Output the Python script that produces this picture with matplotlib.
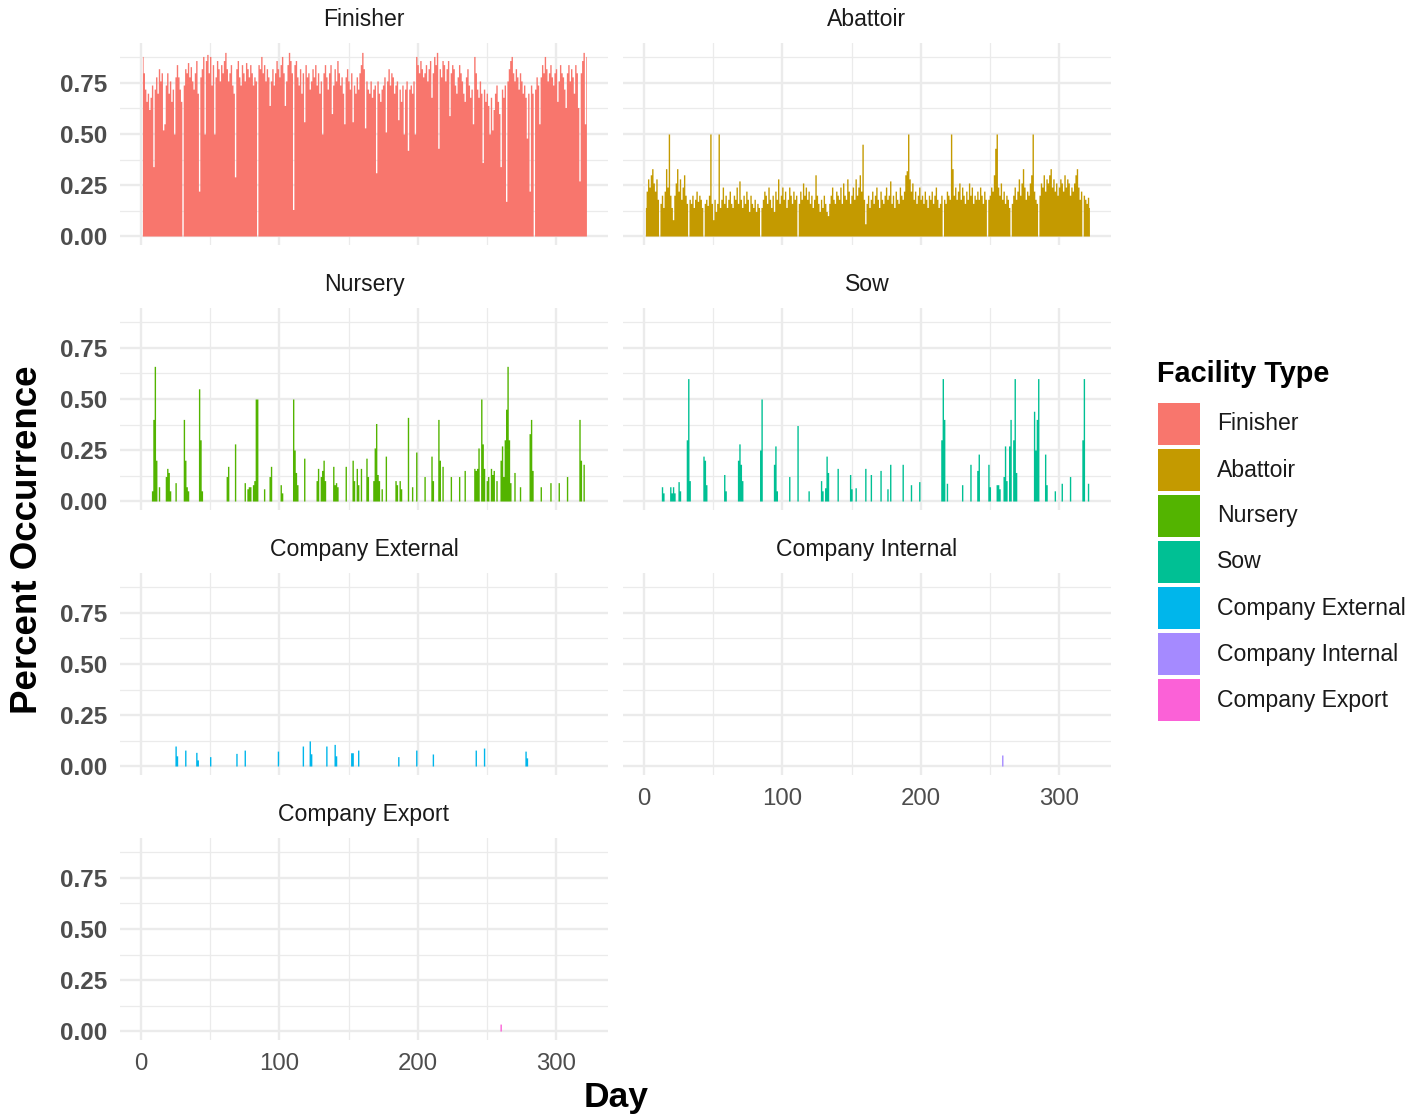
import numpy as np
import matplotlib.pyplot as plt
from matplotlib.patches import Rectangle

plt.rcParams['font.family'] = ['Liberation Sans', 'DejaVu Sans']

W, H = 1427, 1120

facilities = ['Finisher', 'Abattoir', 'Nursery', 'Sow',
              'Company External', 'Company Internal', 'Company Export']
colors = ['#F8766D', '#C49A00', '#53B400', '#00C094',
          '#00B6EB', '#A58AFF', '#FB61D7']

days = np.arange(1, 323)

# daily share of occurrences, finisher + abattoir (every day has a value)
finisher = [
    0.88, 0.80, 0.72, 0.66, 0.70, 0.62, 0.68, 0.74, 0.34, 0.72, 0.78, 0.70, 0.82, 0.76, 0.80, 0.52, 0.55, 0.74, 0.80, 0.70,
    0.76, 0.66, 0.72, 0.50, 0.78, 0.84, 0.78, 0.72, 0.66, 0.00, 0.74, 0.82, 0.80, 0.85, 0.78, 0.83, 0.76, 0.72, 0.80, 0.86,
    0.70, 0.22, 0.78, 0.82, 0.88, 0.50, 0.86, 0.89, 0.80, 0.88, 0.74, 0.84, 0.50, 0.78, 0.86, 0.82, 0.76, 0.84, 0.80, 0.86,
    0.90, 0.82, 0.76, 0.80, 0.84, 0.74, 0.70, 0.29, 0.82, 0.86, 0.78, 0.74, 0.84, 0.80, 0.76, 0.85, 0.82, 0.78, 0.84, 0.80,
    0.74, 0.78, 0.76, 0.00, 0.84, 0.82, 0.88, 0.80, 0.84, 0.76, 0.82, 0.78, 0.64, 0.76, 0.82, 0.74, 0.80, 0.86, 0.82, 0.78,
    0.84, 0.88, 0.80, 0.64, 0.76, 0.84, 0.90, 0.86, 0.80, 0.13, 0.84, 0.86, 0.78, 0.74, 0.82, 0.70, 0.80, 0.56, 0.84, 0.78,
    0.80, 0.72, 0.76, 0.82, 0.78, 0.84, 0.74, 0.80, 0.70, 0.76, 0.50, 0.80, 0.84, 0.78, 0.72, 0.80, 0.84, 0.60, 0.74, 0.82,
    0.76, 0.86, 0.80, 0.74, 0.78, 0.70, 0.55, 0.78, 0.82, 0.76, 0.72, 0.80, 0.56, 0.74, 0.70, 0.78, 0.72, 0.80, 0.84, 0.90,
    0.82, 0.53, 0.76, 0.72, 0.70, 0.76, 0.68, 0.72, 0.74, 0.31, 0.76, 0.70, 0.66, 0.72, 0.74, 0.78, 0.51, 0.76, 0.82, 0.74,
    0.80, 0.78, 0.70, 0.74, 0.76, 0.57, 0.72, 0.66, 0.74, 0.50, 0.72, 0.76, 0.42, 0.72, 0.74, 0.70, 0.76, 0.50, 0.88, 0.84,
    0.80, 0.86, 0.82, 0.78, 0.80, 0.84, 0.76, 0.82, 0.86, 0.68, 0.80, 0.88, 0.84, 0.90, 0.43, 0.82, 0.78, 0.86, 0.84, 0.76,
    0.82, 0.86, 0.59, 0.80, 0.84, 0.82, 0.74, 0.70, 0.78, 0.84, 0.80, 0.76, 0.70, 0.66, 0.78, 0.82, 0.74, 0.68, 0.72, 0.55,
    0.88, 0.80, 0.72, 0.68, 0.76, 0.70, 0.36, 0.72, 0.66, 0.70, 0.64, 0.50, 0.68, 0.52, 0.62, 0.70, 0.74, 0.66, 0.60, 0.34,
    0.72, 0.68, 0.74, 0.17, 0.76, 0.82, 0.86, 0.88, 0.80, 0.76, 0.82, 0.78, 0.72, 0.80, 0.76, 0.70, 0.74, 0.68, 0.48, 0.70,
    0.22, 0.74, 0.70, 0.00, 0.72, 0.78, 0.74, 0.55, 0.78, 0.84, 0.80, 0.88, 0.82, 0.76, 0.80, 0.84, 0.78, 0.74, 0.80, 0.82,
    0.66, 0.76, 0.84, 0.80, 0.78, 0.72, 0.63, 0.80, 0.84, 0.76, 0.82, 0.78, 0.70, 0.84, 0.80, 0.63, 0.27, 0.80, 0.86, 0.90,
    0.55, 0.88,
]

abattoir = [
    0.14, 0.22, 0.28, 0.24, 0.30, 0.33, 0.26, 0.22, 0.28, 0.18, 0.00, 0.16, 0.20, 0.14, 0.22, 0.33, 0.24, 0.50, 0.20, 0.14,
    0.08, 0.20, 0.26, 0.33, 0.22, 0.28, 0.18, 0.24, 0.30, 0.20, 0.16, 0.00, 0.18, 0.16, 0.20, 0.14, 0.18, 0.22, 0.17, 0.20,
    0.18, 0.14, 0.00, 0.16, 0.18, 0.15, 0.20, 0.50, 0.16, 0.08, 0.18, 0.12, 0.16, 0.50, 0.14, 0.18, 0.24, 0.16, 0.20, 0.14,
    0.18, 0.22, 0.16, 0.14, 0.20, 0.18, 0.24, 0.16, 0.27, 0.18, 0.14, 0.20, 0.16, 0.22, 0.18, 0.12, 0.20, 0.16, 0.14, 0.18,
    0.12, 0.16, 0.14, 0.00, 0.14, 0.18, 0.22, 0.20, 0.16, 0.24, 0.18, 0.14, 0.20, 0.12, 0.22, 0.18, 0.28, 0.16, 0.20, 0.24,
    0.18, 0.22, 0.14, 0.18, 0.24, 0.20, 0.16, 0.22, 0.18, 0.20, 0.00, 0.16, 0.22, 0.18, 0.26, 0.20, 0.24, 0.18, 0.22, 0.16,
    0.20, 0.14, 0.18, 0.30, 0.20, 0.16, 0.12, 0.18, 0.14, 0.20, 0.16, 0.12, 0.10, 0.16, 0.20, 0.24, 0.18, 0.16, 0.22, 0.20,
    0.18, 0.24, 0.16, 0.26, 0.20, 0.18, 0.28, 0.22, 0.16, 0.20, 0.24, 0.18, 0.28, 0.20, 0.24, 0.30, 0.22, 0.45, 0.18, 0.06,
    0.16, 0.20, 0.14, 0.18, 0.22, 0.16, 0.20, 0.24, 0.18, 0.14, 0.22, 0.18, 0.16, 0.20, 0.24, 0.18, 0.20, 0.27, 0.16, 0.20,
    0.14, 0.22, 0.18, 0.16, 0.24, 0.20, 0.18, 0.22, 0.30, 0.32, 0.50, 0.28, 0.22, 0.26, 0.18, 0.22, 0.16, 0.20, 0.24, 0.18,
    0.20, 0.16, 0.22, 0.18, 0.14, 0.20, 0.18, 0.22, 0.16, 0.20, 0.24, 0.18, 0.14, 0.16, 0.20, 0.00, 0.18, 0.16, 0.22, 0.20,
    0.18, 0.50, 0.33, 0.20, 0.24, 0.18, 0.22, 0.26, 0.18, 0.24, 0.20, 0.16, 0.22, 0.18, 0.26, 0.20, 0.24, 0.16, 0.20, 0.18,
    0.22, 0.18, 0.24, 0.20, 0.16, 0.22, 0.18, 0.00, 0.18, 0.20, 0.24, 0.22, 0.30, 0.43, 0.50, 0.24, 0.20, 0.26, 0.18, 0.22,
    0.16, 0.20, 0.18, 0.14, 0.00, 0.16, 0.20, 0.24, 0.18, 0.22, 0.28, 0.20, 0.26, 0.33, 0.24, 0.18, 0.22, 0.20, 0.26, 0.30,
    0.50, 0.22, 0.18, 0.16, 0.00, 0.20, 0.26, 0.24, 0.30, 0.22, 0.28, 0.26, 0.30, 0.33, 0.24, 0.28, 0.22, 0.26, 0.20, 0.24,
    0.28, 0.26, 0.22, 0.30, 0.24, 0.28, 0.26, 0.20, 0.24, 0.22, 0.26, 0.30, 0.33, 0.24, 0.18, 0.22, 0.00, 0.20, 0.18, 0.16,
    0.19, 0.14,
]

# the other facility types only show up on a few days (zero otherwise)
nursery_days = [8, 9, 10, 11, 13, 18, 19, 20, 21, 25, 31, 32, 33, 34, 42, 43, 44,
                62, 63, 68, 75, 77, 78, 79, 81, 82, 83, 84, 89, 93, 94, 101, 102,
                110, 111, 112, 113, 118, 127, 128, 130, 131, 132, 133, 139, 140, 141, 142,
                148, 153, 154, 156, 157, 159, 163, 164, 168, 169, 170, 171, 172, 174, 177,
                184, 185, 187, 188, 193, 196, 199, 205, 210, 211, 215, 216, 218, 224, 230,
                234, 241, 242, 243, 244, 246, 247, 248, 250, 251, 253, 254, 255, 257,
                260, 261, 262, 263, 264, 265, 266, 267, 270, 274, 281, 282, 283, 289,
                296, 302, 308, 317, 318, 320]
nursery_vals = [0.05, 0.40, 0.66, 0.20, 0.07, 0.12, 0.16, 0.14, 0.05, 0.09, 0.40, 0.20, 0.07, 0.05, 0.55, 0.30, 0.05,
                0.12, 0.17, 0.28, 0.09, 0.06, 0.07, 0.07, 0.08, 0.10, 0.50, 0.50, 0.06, 0.12, 0.17, 0.08, 0.04,
                0.50, 0.25, 0.14, 0.08, 0.21, 0.10, 0.16, 0.12, 0.15, 0.20, 0.10, 0.17, 0.08, 0.09, 0.07,
                0.17, 0.20, 0.10, 0.16, 0.08, 0.16, 0.21, 0.12, 0.10, 0.26, 0.38, 0.13, 0.10, 0.06, 0.22,
                0.10, 0.08, 0.10, 0.06, 0.41, 0.07, 0.24, 0.12, 0.22, 0.10, 0.40, 0.20, 0.17, 0.12, 0.12,
                0.15, 0.16, 0.15, 0.16, 0.26, 0.50, 0.28, 0.16, 0.10, 0.12, 0.16, 0.13, 0.15, 0.10,
                0.20, 0.27, 0.12, 0.30, 0.45, 0.66, 0.30, 0.09, 0.14, 0.07, 0.33, 0.40, 0.15, 0.07,
                0.09, 0.09, 0.12, 0.40, 0.20, 0.18]

sow_days = [13, 14, 19, 20, 21, 22, 25, 26, 31, 32, 33, 43, 44, 45, 58, 59, 68, 69, 70, 71,
            84, 85, 94, 95, 96, 105, 111, 119, 128, 129, 131, 132, 133, 140, 149, 150, 153,
            160, 164, 171, 176, 178, 187, 193, 199, 215, 216, 217, 219, 230, 236, 241, 242,
            249, 250, 255, 256, 257, 260, 261, 262, 264, 265, 267, 268, 269, 282, 283, 284,
            285, 290, 291, 297, 302, 308, 317, 318, 321]
sow_vals = [0.07, 0.04, 0.07, 0.04, 0.07, 0.04, 0.095, 0.05, 0.30, 0.60, 0.10, 0.22, 0.20, 0.08, 0.13, 0.05, 0.20, 0.28, 0.18, 0.10,
            0.25, 0.50, 0.18, 0.27, 0.05, 0.12, 0.37, 0.05, 0.10, 0.05, 0.065, 0.22, 0.14, 0.16, 0.13, 0.06, 0.065,
            0.16, 0.13, 0.15, 0.06, 0.18, 0.18, 0.08, 0.095, 0.30, 0.60, 0.40, 0.087, 0.08, 0.18, 0.15, 0.23,
            0.18, 0.07, 0.08, 0.08, 0.06, 0.12, 0.27, 0.10, 0.27, 0.40, 0.30, 0.60, 0.14, 0.44, 0.25, 0.40,
            0.60, 0.23, 0.08, 0.05, 0.087, 0.12, 0.30, 0.60, 0.087]

external_days = [25, 26, 32, 40, 41, 50, 69, 75, 99, 117, 122, 123, 134, 140, 141, 152, 153,
                 157, 186, 199, 211, 242, 248, 278, 279]
external_vals = [0.098, 0.05, 0.078, 0.067, 0.03, 0.046, 0.062, 0.078, 0.073, 0.098, 0.123, 0.06, 0.098, 0.106, 0.05, 0.065, 0.065,
                 0.078, 0.046, 0.078, 0.059, 0.078, 0.088, 0.073, 0.04]

internal_days = [259]
internal_vals = [0.054]

export_days = [260]
export_vals = [0.034]


def spread(d, v):
    s = np.zeros(len(days))
    s[np.array(d) - 1] = v
    return s


series = [np.array(finisher), np.array(abattoir),
          spread(nursery_days, nursery_vals), spread(sow_days, sow_vals),
          spread(external_days, external_vals), spread(internal_days, internal_vals),
          spread(export_days, export_vals)]

fig = plt.figure(figsize=(W / 100, H / 100), dpi=100)

grid_col = '#EBEBEB'
txt_col = '#4D4D4D'
lefts = [120, 623]
pw, ph = 488, 202

for i, (name, vals, c) in enumerate(zip(facilities, series, colors)):
    row, col = divmod(i, 2)
    base = 236 + 265 * row          # pixel row of y = 0
    bottom = base + 9.2
    ax = fig.add_axes([lefts[col] / W, 1 - bottom / H, pw / W, ph / H])
    # one thin column per day
    ax.fill_between(days, vals, 0, step='mid', color=c, lw=0)
    ax.set_xlim(-15.2, 337.6)
    ax.set_ylim(-0.045, 0.945)
    ax.set_xticks([0, 100, 200, 300])
    ax.set_xticks([50, 150, 250], minor=True)
    ax.set_yticks([0, 0.25, 0.5, 0.75])
    ax.set_yticks([0.125, 0.375, 0.625, 0.875], minor=True)
    ax.grid(which='major', color=grid_col, lw=1.7)
    ax.grid(which='minor', color=grid_col, lw=0.9)
    ax.set_axisbelow(True)
    for s in ax.spines.values():
        s.set_visible(False)
    ax.tick_params(which='both', length=0, pad=9)
    if col == 0:
        ax.set_yticklabels(['0.00', '0.25', '0.50', '0.75'], fontsize=17.5,
                           fontweight='bold', color=txt_col)
    else:
        ax.set_yticklabels([])
    # only the lowest panel of each column gets day labels
    if (col == 0 and row == 3) or (col == 1 and row == 2):
        ax.set_xticklabels(['0', '100', '200', '300'], fontsize=17.3, color=txt_col)
    else:
        ax.set_xticklabels([])
    top = base - 192.8
    fig.text((lefts[col] + pw / 2) / W, 1 - (top - 24) / H, name,
             ha='center', va='center', fontsize=16.6, color='#1A1A1A')

fig.text(28 / W, 1 - 540 / H, 'Percent Occurrence', rotation=90, ha='center',
         va='center', fontsize=26.5, fontweight='bold')
fig.text(616 / W, 1 - 1098 / H, 'Day', ha='center', va='center',
         fontsize=25.5, fontweight='bold')

# legend
fig.text(1157 / W, 1 - 374 / H, 'Facility Type', ha='left', va='center',
         fontsize=20.8, fontweight='bold')
for i, (name, c) in enumerate(zip(facilities, colors)):
    cy = 424 + 46 * i
    fig.patches.append(Rectangle((1158 / W, 1 - (cy + 21) / H), 42 / W, 42 / H,
                                 transform=fig.transFigure, facecolor=c,
                                 edgecolor='none'))
    fig.text(1217 / W, 1 - cy / H, name, ha='left', va='center', fontsize=16.6,
             color='#1A1A1A')

fig.savefig('out.png', dpi=100, facecolor='white')
